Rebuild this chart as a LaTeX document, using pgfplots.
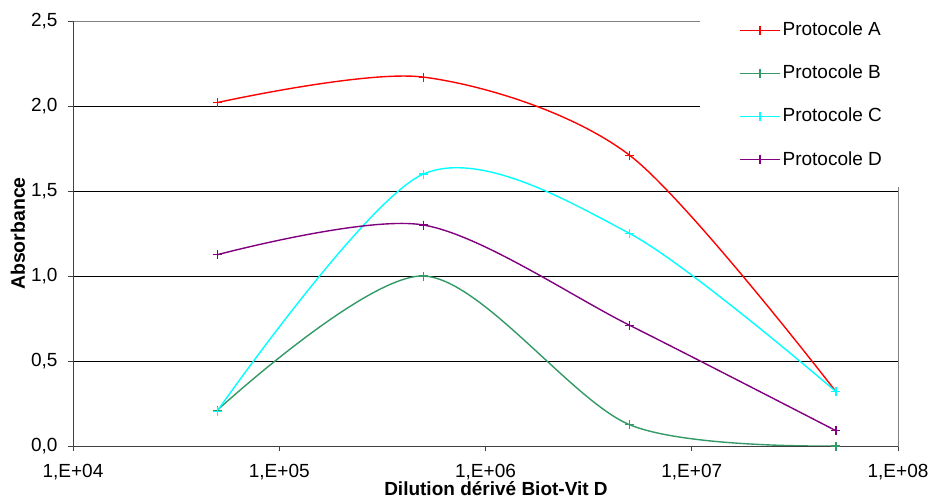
\documentclass[border=0pt]{standalone}
\usepackage{pgfplots}
\pgfplotsset{compat=1.18}
\usepackage{fontspec}
\setmainfont{Liberation Sans}
\definecolor{cA}{RGB}{255,0,0}
\definecolor{cB}{RGB}{51,153,102}
\definecolor{cC}{RGB}{0,255,255}
\definecolor{cD}{RGB}{128,0,128}
\begin{document}
\fontsize{19}{22}\selectfont
\begin{tikzpicture}[x=1pt,y=1pt]
\useasboundingbox (-73,-53) rectangle (857,446);
\begin{axis}[
  at={(0,0)}, anchor=south west,
  scale only axis, width=825pt, height=425pt,
  xmode=log, xmin=1e4, xmax=1e8, ymin=0, ymax=2.5,
  xtick={1e4,1e5,1e6,1e7,1e8},
  xticklabels={{1,E+04},{1,E+05},{1,E+06},{1,E+07},{1,E+08}},
  xminorticks=false,
  ytick={0,0.5,1,1.5,2},
  extra y ticks={2.5},
  extra y tick style={grid=none},
  /pgf/number format/fixed, /pgf/number format/fixed zerofill,
  /pgf/number format/precision=1, /pgf/number format/use comma,
  /pgf/number format/assume math mode=true,
  ymajorgrids, major grid style={black, line width=0.8pt},
  axis line style={draw=gray, line width=0.8pt},
  tick align=outside, xtick pos=bottom, ytick pos=left,
  major tick length=5pt, tick style={black!75, line width=0.8pt},
  ticklabel style={font=\fontsize{19}{22}\selectfont},
  xticklabel style={inner sep=1pt, yshift=-12.3pt},
  yticklabel style={xshift=-4pt},
  xlabel={\bfseries Dilution dérivé Biot-Vit D},
  ylabel={\bfseries Absorbance},
  xlabel style={at={(axis description cs:0.5127,-0.1153)}, anchor=base, inner sep=0pt, font=\fontsize{19}{22}\selectfont},
  ylabel style={at={(axis description cs:-0.0582,0.5)}, anchor=base, font=\fontsize{19.5}{22}\selectfont},
  legend cell align=left,
  legend style={fill=white, draw=none, at={(rel axis cs:0.76,1.043)}, anchor=north west,
    inner xsep=39pt, inner ysep=17pt, row sep=22.5pt,
    font=\fontsize{19}{22}\selectfont,
    /tikz/every even column/.append style={column sep=6pt}},
  legend image code/.code={\draw[mark repeat=2,mark phase=2,#1] plot coordinates {(0pt,0pt) (20pt,0pt) (40pt,0pt)};},
  every axis plot/.append style={line width=1.4pt, smooth, mark=+, mark size=4.5pt},
]
\addplot[cA, mark options={draw=cA, line width=1.2pt}] coordinates {(5e4,2.02) (5e5,2.17) (5e6,1.71) (5e7,0.32)};
\addlegendentry{Protocole A}
\addplot[cB, mark options={draw=cB, line width=1.2pt}] coordinates {(5e4,0.21) (5e5,1.00) (5e6,0.125) (5e7,0.0)};
\addlegendentry{Protocole B}
\addplot[cC, mark options={draw=cC, line width=1.2pt}] coordinates {(5e4,0.205) (5e5,1.60) (5e6,1.25) (5e7,0.32)};
\addlegendentry{Protocole C}
\addplot[cD, mark options={draw=cD, line width=1.2pt}] coordinates {(5e4,1.125) (5e5,1.30) (5e6,0.71) (5e7,0.09)};
\addlegendentry{Protocole D}
\draw[black!75, line width=0.8pt] (rel axis cs:0,1) -- (rel axis cs:0,0) -- (rel axis cs:1,0);
\end{axis}
\end{tikzpicture}
\end{document}
